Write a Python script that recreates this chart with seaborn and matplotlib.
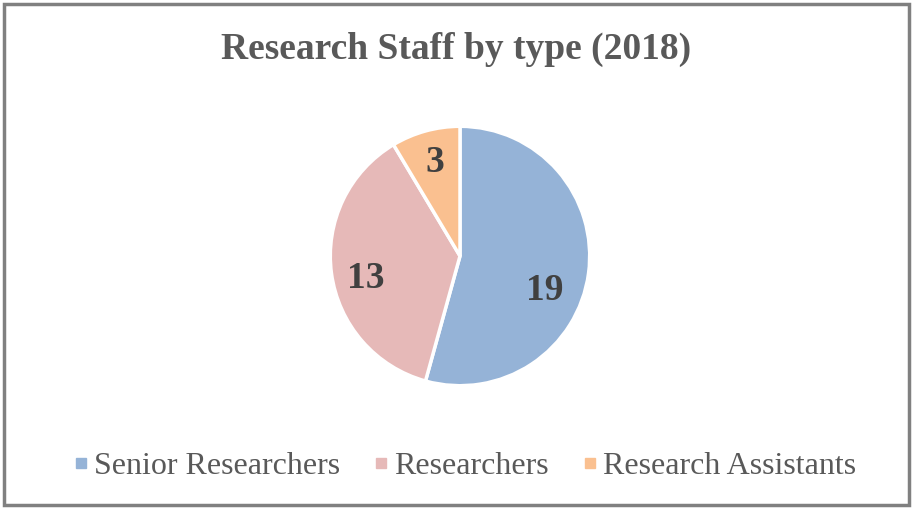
import matplotlib
matplotlib.use("Agg")
import matplotlib.pyplot as plt
from matplotlib.patches import Rectangle
from matplotlib.lines import Line2D
import seaborn as sns

categories = ["Senior Researchers", "Researchers", "Research Assistants"]
counts = [19, 13, 3]
colors = ["#95B3D7", "#E6B9B8", "#FAC090"]

sns.set_theme(style="white")
plt.rcParams["font.family"] = ["Liberation Serif", "DejaVu Serif"]

W, H = 913, 508
fig = plt.figure(figsize=(W / 100, H / 100), dpi=100)

# pie centred around (460, 256) px with radius ~131 px
cx, cy, r = 460, 256, 131
ax = fig.add_axes([(cx - r) / W, (H - cy - r) / H, 2 * r / W, 2 * r / H])

wedges, texts, autotexts = ax.pie(
    counts,
    colors=colors,
    startangle=90,
    counterclock=False,
    autopct=lambda p: f"{round(p * sum(counts) / 100):d}",
    pctdistance=0.72,
    wedgeprops=dict(edgecolor="white", linewidth=2.5),
    textprops=dict(fontsize=27, fontweight="bold", color="#404040"),
)
# excel-style label nudges
nudges = [(-0.06, -0.17), (-0.01, -0.08), (0.0, 0.03)]
for t, (dx, dy) in zip(autotexts, nudges):
    x, y = t.get_position()
    t.set_position((x + dx, y + dy))

ax.set_xlim(-1.01, 1.01)
ax.set_ylim(-1.01, 1.01)
ax.set_aspect("equal")

fig.text(0.5, 1 - 49 / H, "Research Staff by type (2018)", ha="center", va="center",
         fontsize=27, fontweight="bold", color="#595959")

handles = [Line2D([0], [0], marker="s", linestyle="", markersize=7,
                  markerfacecolor=c, markeredgecolor=c) for c in colors]
fig.legend(handles, categories, loc="center", bbox_to_anchor=(0.508, 1 - 466 / H),
           ncol=3, frameon=False, fontsize=23, handletextpad=0.1,
           columnspacing=1.0, handlelength=0.6, labelcolor="#595959")

fig.patches.append(Rectangle((4 / W, 3 / H), 1 - 8 / W, 1 - 7 / H, transform=fig.transFigure,
                             fill=False, edgecolor="#808080", linewidth=2.5))

fig.savefig("out.png", dpi=100, facecolor="white")
